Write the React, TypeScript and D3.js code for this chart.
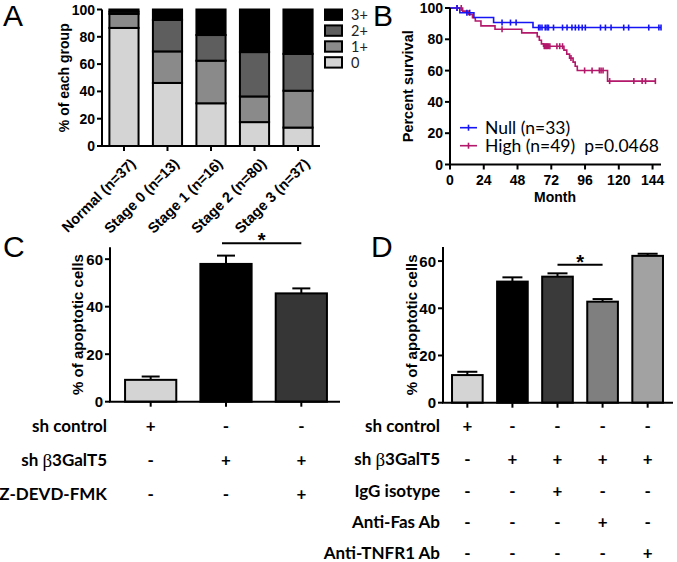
import React from "react";
import * as d3 from "d3";

// ---------- Panel A data ----------
const groupsA = ["Normal (n=37)", "Stage 0 (n=13)", "Stage 1 (n=16)", "Stage 2 (n=80)", "Stage 3 (n=37)"];
const score0 = [86.5, 46.2, 31.3, 17.5, 13.5];
const score1 = [10.3, 23.1, 31.2, 18.8, 27.0];
const score2 = [1.6, 23.1, 18.8, 32.5, 27.0];
const score3 = [1.6, 7.6, 18.7, 31.2, 32.5];
const keysA = ["0", "1+", "2+", "3+"];
const colorsA = ["#d4d4d4", "#8a8a8a", "#5e5e5e", "#000000"];
const ticksA = [0, 20, 40, 60, 80, 100];

// ---------- Panel B data ----------
const nullTimes = [0, 7, 17, 31, 59];
const nullSurv = [100, 97, 93.9, 90.7, 87.5];
const nullEnd = 150;
const nullCensor = [5, 12, 14, 37, 43, 47, 63, 64, 65.4, 67.7, 69, 70, 73.6, 80, 83.2, 86.7, 89.1, 91.5, 94, 96.2, 107, 110.5, 114.5, 123.5, 127, 141.3, 148.5, 150];
const highTimes = [0, 9, 13, 16, 18, 22, 32, 51, 62, 63.5, 65, 66.5, 81, 83, 85, 87.5, 89, 90.5, 112];
const highSurv = [100, 98, 95.9, 93.8, 91.7, 88.6, 86.4, 84.1, 81.7, 79.4, 77.1, 75.6, 73.1, 70.5, 68, 65.4, 62.8, 60.1, 53.3];
const highEnd = 146;
const highCensor = [5, 8, 37, 67, 67.8, 68.5, 69.2, 70, 71, 76, 78, 80, 86, 95.7, 101, 106.2, 107.4, 108.8, 113.5, 130.7, 136.6, 139, 146];
const ticksBy = [0, 20, 40, 60, 80, 100];
const ticksBx = [0, 24, 48, 72, 96, 120, 144];

// ---------- Panel C data ----------
const valuesC = [9.2, 58.0, 45.6];
const errorsC = [1.4, 3.5, 2.1];
const colorsC = ["#d4d4d4", "#000000", "#363636"];
const rowsC = ["sh control", "sh β3GalT5", "Z-DEVD-FMK"];
const signsC = [["+", "-", "-"], ["-", "+", "+"], ["-", "-", "+"]];
const ticksC = [0, 20, 40, 60];

// ---------- Panel D data ----------
const valuesD = [11.7, 51.3, 53.4, 42.8, 62.2];
const errorsD = [1.4, 1.8, 1.4, 1.1, 0.9];
const colorsD = ["#d4d4d4", "#000000", "#3a3a3a", "#7f7f7f", "#a2a2a2"];
const rowsD = ["sh control", "sh β3GalT5", "IgG isotype", "Anti-Fas Ab", "Anti-TNFR1 Ab"];
const signsD = [
  ["+", "-", "-", "-", "-"],
  ["-", "+", "+", "+", "+"],
  ["-", "-", "+", "-", "-"],
  ["-", "-", "-", "+", "-"],
  ["-", "-", "-", "-", "+"],
];
const ticksD = [0, 20, 40, 60];

const AX = "'Liberation Sans', Arial, sans-serif";
const CAL = "Lato, 'Open Sans', sans-serif";

function survAt(times: number[], surv: number[], t: number) {
  let s = surv[0];
  for (let i = 0; i < times.length; i++) if (times[i] <= t) s = surv[i];
  return s;
}

function RowLabel({ x, y, label }: { x: number; y: number; label: string }) {
  if (label.includes("β")) {
    const [a, b] = label.split("β");
    return (
      <text x={x} y={y} textAnchor="end" dominantBaseline="central" fontFamily={CAL} fontWeight={700} fontSize={17}>
        {a}
        <tspan fontFamily="'Liberation Serif', serif" fontWeight={400} fontSize={19}>β</tspan>
        {b}
      </text>
    );
  }
  return (
    <text x={x} y={y} textAnchor="end" dominantBaseline="central" fontFamily={CAL} fontWeight={700} fontSize={17}>
      {label}
    </text>
  );
}

export default function App() {
  // ----- Panel A -----
  const xA = d3.scaleBand<string>().domain(groupsA).range([102, 320]).paddingInner(0.33).paddingOuter(0.17);
  const yA = d3.scaleLinear().domain([0, 100]).range([146, 9.5]);
  const tableA = groupsA.map((g, i) => ({ group: g, "0": score0[i], "1+": score1[i], "2+": score2[i], "3+": score3[i] }));
  const stackA = d3.stack<any>().keys(keysA)(tableA as any);

  // ----- Panel B -----
  const xB = d3.scaleLinear().domain([0, 150]).range([450, 661]);
  const yB = d3.scaleLinear().domain([0, 100]).range([164.5, 8]);
  const stepLine = d3
    .line<[number, number]>()
    .x((d) => xB(d[0]))
    .y((d) => yB(d[1]))
    .curve(d3.curveStepAfter);
  const nullPts: [number, number][] = nullTimes.map((t, i) => [t, nullSurv[i]] as [number, number]).concat([[nullEnd, nullSurv[nullSurv.length - 1]]]);
  const highPts: [number, number][] = highTimes.map((t, i) => [t, highSurv[i]] as [number, number]).concat([[highEnd, highSurv[highSurv.length - 1]]]);
  const blue = "#1515f5";
  const crimson = "#b3186a";

  // ----- Panel C -----
  const xC = d3.scaleBand<number>().domain(valuesC.map((_, i) => i)).range([110, 342]).paddingInner(0.32).paddingOuter(0.2);
  const yC = d3.scaleLinear().domain([0, 65]).range([401.7, 247.3]);

  // ----- Panel D -----
  const xD = d3.scaleBand<number>().domain(valuesD.map((_, i) => i)).range([443, 672]).paddingInner(0.32).paddingOuter(0.2);
  const yD = d3.scaleLinear().domain([0, 66]).range([402.7, 246.9]);

  const rowYC = [425, 459.5, 493.5];
  const rowYD = [425.5, 458.5, 490, 521.5, 552.5];

  return (
    <svg width={677} height={562} style={{ position: "absolute", left: 0, top: 0, background: "#fff" }} fontFamily={AX}>
      {/* ================= Panel A ================= */}
      <text x={3} y={26} fontSize={30} fontFamily={AX}>A</text>
      {stackA.map((s, si) => (
        <g key={s.key}>
          {s.map((d: any, i: number) => (
            <rect
              key={i}
              x={xA(d.data.group)}
              y={yA(d[1])}
              width={xA.bandwidth()}
              height={yA(d[0]) - yA(d[1])}
              fill={colorsA[si]}
              stroke="#000"
              strokeWidth={2}
            />
          ))}
        </g>
      ))}
      <line x1={102} x2={102} y1={yA(100)} y2={yA(0)} stroke="#000" strokeWidth={2} />
      <line x1={101} x2={320} y1={yA(0)} y2={yA(0)} stroke="#000" strokeWidth={2} />
      {ticksA.map((t) => (
        <g key={t}>
          <line x1={97} x2={102} y1={yA(t)} y2={yA(t)} stroke="#000" strokeWidth={2} />
          <text x={95} y={yA(t)} textAnchor="end" dominantBaseline="central" fontWeight={700} fontSize={14}>{t}</text>
        </g>
      ))}
      {groupsA.map((g) => {
        const cx = (xA(g) as number) + xA.bandwidth() / 2;
        return (
          <g key={g}>
            <line x1={cx} x2={cx} y1={146} y2={151} stroke="#000" strokeWidth={2} />
            <text transform={`translate(${cx + 9},${161}) rotate(-45)`} textAnchor="end" dominantBaseline="central" fontWeight={700} fontSize={14.5}>{g}</text>
          </g>
        );
      })}
      <text transform={`translate(64,${(yA(0) + yA(100)) / 2}) rotate(-90)`} textAnchor="middle" dominantBaseline="central" fontWeight={700} fontSize={14}>% of each group</text>
      {keysA.slice().reverse().map((k, i) => {
        const ci = keysA.length - 1 - i;
        const cy = 14.7 + i * 15.9;
        return (
          <g key={k}>
            <rect x={325} y={cy - 5.2} width={17} height={10.4} fill={colorsA[ci]} stroke="#000" strokeWidth={2} />
            <text x={351} y={cy} dominantBaseline="central" fontFamily={CAL} fontSize={14.5} fill="#222">{k}</text>
          </g>
        );
      })}

      {/* ================= Panel B ================= */}
      <text x={373} y={26} fontSize={30} fontFamily={AX}>B</text>
      <path d={stepLine(highPts) as string} fill="none" stroke={crimson} strokeWidth={1.6} />
      <path d={stepLine(nullPts) as string} fill="none" stroke={blue} strokeWidth={1.6} />
      {highCensor.map((t, i) => (
        <line key={"hc" + i} x1={xB(t)} x2={xB(t)} y1={yB(survAt(highTimes, highSurv, t)) - 3} y2={yB(survAt(highTimes, highSurv, t)) + 3} stroke={crimson} strokeWidth={1.6} />
      ))}
      {nullCensor.map((t, i) => (
        <line key={"nc" + i} x1={xB(t)} x2={xB(t)} y1={yB(survAt(nullTimes, nullSurv, t)) - 3} y2={yB(survAt(nullTimes, nullSurv, t)) + 3} stroke={blue} strokeWidth={1.6} />
      ))}
      <line x1={450} x2={450} y1={yB(100)} y2={yB(0)} stroke="#000" strokeWidth={2} />
      <line x1={449} x2={661} y1={yB(0)} y2={yB(0)} stroke="#000" strokeWidth={2} />
      {ticksBy.map((t) => (
        <g key={t}>
          <line x1={445} x2={450} y1={yB(t)} y2={yB(t)} stroke="#000" strokeWidth={2} />
          <text x={443} y={yB(t)} textAnchor="end" dominantBaseline="central" fontWeight={700} fontSize={14}>{t}</text>
        </g>
      ))}
      {ticksBx.map((t) => (
        <g key={t}>
          <line x1={xB(t)} x2={xB(t)} y1={yB(0)} y2={yB(0) + 5} stroke="#000" strokeWidth={2} />
          <text x={xB(t)} y={185} textAnchor="middle" fontWeight={700} fontSize={14}>{t}</text>
        </g>
      ))}
      <text x={555} y={202} textAnchor="middle" fontWeight={700} fontSize={14}>Month</text>
      <text transform={`translate(408,${(yB(0) + yB(100)) / 2}) rotate(-90)`} textAnchor="middle" dominantBaseline="central" fontWeight={700} fontSize={14.5}>Percent survival</text>
      {/* legend */}
      <line x1={460} x2={477} y1={127.7} y2={127.7} stroke={blue} strokeWidth={1.6} />
      <line x1={468.5} x2={468.5} y1={124.7} y2={130.7} stroke={blue} strokeWidth={1.6} />
      <text x={485} y={134} fontFamily={CAL} fontSize={17.5}>Null (n=33)</text>
      <line x1={460} x2={477} y1={145.7} y2={145.7} stroke={crimson} strokeWidth={1.6} />
      <line x1={468.5} x2={468.5} y1={142.7} y2={148.7} stroke={crimson} strokeWidth={1.6} />
      <text x={485} y={152} fontFamily={CAL} fontSize={17.5} style={{ whiteSpace: "pre" }}>{"High (n=49)  p=0.0468"}</text>

      {/* ================= Panel C ================= */}
      <text x={3} y={257} fontSize={30} fontFamily={AX}>C</text>
      {valuesC.map((v, i) => {
        const x0 = xC(i) as number;
        const cx = x0 + xC.bandwidth() / 2;
        return (
          <g key={i}>
            <line x1={cx} x2={cx} y1={yC(v)} y2={yC(v + errorsC[i])} stroke="#000" strokeWidth={2} />
            <line x1={cx - 9} x2={cx + 9} y1={yC(v + errorsC[i])} y2={yC(v + errorsC[i])} stroke="#000" strokeWidth={2} />
            <rect x={x0} y={yC(v)} width={xC.bandwidth()} height={yC(0) - yC(v)} fill={colorsC[i]} stroke="#000" strokeWidth={2} />
            <line x1={cx} x2={cx} y1={yC(0)} y2={yC(0) + 5} stroke="#000" strokeWidth={2} />
          </g>
        );
      })}
      <line x1={110} x2={110} y1={yC(65)} y2={yC(0)} stroke="#000" strokeWidth={2} />
      <line x1={109} x2={340} y1={yC(0)} y2={yC(0)} stroke="#000" strokeWidth={2} />
      {ticksC.map((t) => (
        <g key={t}>
          <line x1={105} x2={110} y1={yC(t)} y2={yC(t)} stroke="#000" strokeWidth={2} />
          <text x={103} y={yC(t)} textAnchor="end" dominantBaseline="central" fontWeight={700} fontSize={15}>{t}</text>
        </g>
      ))}
      <text transform={`translate(77,${(yC(0) + yC(65)) / 2}) rotate(-90)`} textAnchor="middle" dominantBaseline="central" fontWeight={700} fontSize={15}>% of apoptotic cells</text>
      {(() => {
        const c1 = (xC(1) as number) + xC.bandwidth() / 2;
        const c2 = (xC(2) as number) + xC.bandwidth() / 2;
        return (
          <g>
            <line x1={c1 - 4} x2={c2} y1={243.3} y2={243.3} stroke="#000" strokeWidth={2} />
            <text x={(c1 + c2) / 2 - 2} y={247} textAnchor="middle" fontWeight={700} fontSize={20}>*</text>
          </g>
        );
      })()}
      {rowsC.map((r, ri) => (
        <g key={r}>
          <RowLabel x={107} y={rowYC[ri]} label={r} />
          {signsC[ri].map((s, ci) => (
            <text key={ci} x={(xC(ci) as number) + xC.bandwidth() / 2} y={rowYC[ri]} textAnchor="middle" dominantBaseline="central" fontFamily={CAL} fontWeight={700} fontSize={17}>{s}</text>
          ))}
        </g>
      ))}

      {/* ================= Panel D ================= */}
      <text x={371} y={257} fontSize={30} fontFamily={AX}>D</text>
      {valuesD.map((v, i) => {
        const x0 = xD(i) as number;
        const cx = x0 + xD.bandwidth() / 2;
        return (
          <g key={i}>
            <line x1={cx} x2={cx} y1={yD(v)} y2={yD(v + errorsD[i])} stroke="#000" strokeWidth={2} />
            <line x1={cx - 10} x2={cx + 10} y1={yD(v + errorsD[i])} y2={yD(v + errorsD[i])} stroke="#000" strokeWidth={2} />
            <rect x={x0} y={yD(v)} width={xD.bandwidth()} height={yD(0) - yD(v)} fill={colorsD[i]} stroke="#000" strokeWidth={2} />
            <line x1={cx} x2={cx} y1={yD(0)} y2={yD(0) + 5} stroke="#000" strokeWidth={2} />
          </g>
        );
      })}
      <line x1={443} x2={443} y1={yD(66)} y2={yD(0)} stroke="#000" strokeWidth={2} />
      <line x1={442} x2={673} y1={yD(0)} y2={yD(0)} stroke="#000" strokeWidth={2} />
      {ticksD.map((t) => (
        <g key={t}>
          <line x1={438} x2={443} y1={yD(t)} y2={yD(t)} stroke="#000" strokeWidth={2} />
          <text x={436} y={yD(t)} textAnchor="end" dominantBaseline="central" fontWeight={700} fontSize={15}>{t}</text>
        </g>
      ))}
      <text transform={`translate(411,${(yD(0) + yD(66)) / 2}) rotate(-90)`} textAnchor="middle" dominantBaseline="central" fontWeight={700} fontSize={15}>% of apoptotic cells</text>
      {(() => {
        const c1 = (xD(2) as number) + xD.bandwidth() / 2;
        const c2 = (xD(3) as number) + xD.bandwidth() / 2;
        return (
          <g>
            <line x1={c1} x2={c2} y1={264.7} y2={264.7} stroke="#000" strokeWidth={2} />
            <text x={(c1 + c2) / 2} y={268.5} textAnchor="middle" fontWeight={700} fontSize={20}>*</text>
          </g>
        );
      })()}
      {rowsD.map((r, ri) => (
        <g key={r}>
          <RowLabel x={440} y={rowYD[ri]} label={r} />
          {signsD[ri].map((s, ci) => (
            <text key={ci} x={(xD(ci) as number) + xD.bandwidth() / 2} y={rowYD[ri]} textAnchor="middle" dominantBaseline="central" fontFamily={CAL} fontWeight={700} fontSize={17}>{s}</text>
          ))}
        </g>
      ))}
    </svg>
  );
}
